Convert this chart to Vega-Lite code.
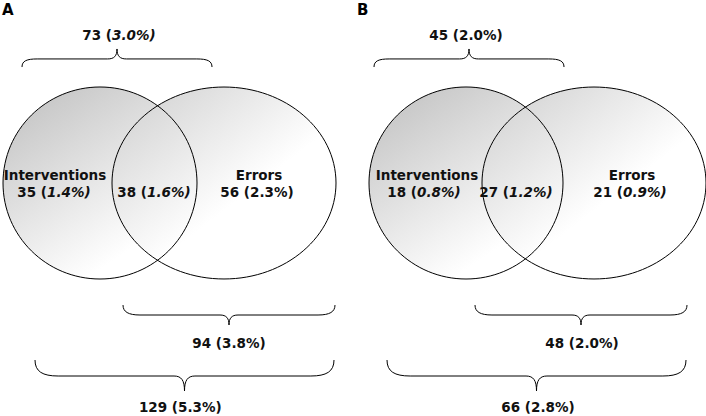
{
  "$schema": "https://vega.github.io/schema/vega-lite/v6.json",
  "width": 706,
  "height": 416,
  "padding": 0,
  "autosize": {"type": "none"},
  "background": "white",
  "config": {"view": {"stroke": null}},
  "datasets": {
    "sets": [
      {"panel": "A", "set": "Interventions", "x": 100, "y": 183},
      {"panel": "A", "set": "Errors", "x": 224, "y": 183},
      {"panel": "B", "set": "Interventions", "x": 466, "y": 183},
      {"panel": "B", "set": "Errors", "x": 594, "y": 183}
    ],
    "braces": [
      {"panel": "A", "brace": "interventions total", "x": 117, "y": 58},
      {"panel": "A", "brace": "errors total", "x": 229, "y": 315},
      {"panel": "A", "brace": "overall", "x": 184.5, "y": 376},
      {"panel": "B", "brace": "interventions total", "x": 469, "y": 58},
      {"panel": "B", "brace": "errors total", "x": 581, "y": 315},
      {"panel": "B", "brace": "overall", "x": 536.5, "y": 376}
    ],
    "names": [
      {"panel": "A", "name": "Interventions", "x": 55, "y": 180},
      {"panel": "A", "name": "Errors", "x": 259, "y": 180},
      {"panel": "B", "name": "Interventions", "x": 427, "y": 180},
      {"panel": "B", "name": "Errors", "x": 632, "y": 180}
    ],
    "counts": [
      {"panel": "A", "region": "interventions total", "x": 112, "y": 40, "lead": "73 (", "tail_italic": "3.0%)", "tail_plain": ""},
      {"panel": "A", "region": "interventions only", "x": 47, "y": 197, "lead": "35 (", "tail_italic": "1.4%)", "tail_plain": ""},
      {"panel": "A", "region": "both", "x": 147, "y": 197, "lead": "38 (", "tail_italic": "1.6%)", "tail_plain": ""},
      {"panel": "A", "region": "errors only", "x": 250, "y": 197, "lead": "56 (", "tail_italic": "", "tail_plain": "2.3%)"},
      {"panel": "A", "region": "errors total", "x": 222, "y": 348, "lead": "94 (", "tail_italic": "", "tail_plain": "3.8%)"},
      {"panel": "A", "region": "overall", "x": 178, "y": 412, "lead": "129 (", "tail_italic": "", "tail_plain": "5.3%)"},
      {"panel": "B", "region": "interventions total", "x": 459, "y": 40, "lead": "45 (", "tail_italic": "", "tail_plain": "2.0%)"},
      {"panel": "B", "region": "interventions only", "x": 417, "y": 197, "lead": "18 (", "tail_italic": "0.8%)", "tail_plain": ""},
      {"panel": "B", "region": "both", "x": 509, "y": 197, "lead": "27 (", "tail_italic": "1.2%)", "tail_plain": ""},
      {"panel": "B", "region": "errors only", "x": 623, "y": 197, "lead": "21 (", "tail_italic": "0.9%)", "tail_plain": ""},
      {"panel": "B", "region": "errors total", "x": 575, "y": 348, "lead": "48 (", "tail_italic": "", "tail_plain": "2.0%)"},
      {"panel": "B", "region": "overall", "x": 531, "y": 412, "lead": "66 (", "tail_italic": "", "tail_plain": "2.8%)"}
    ],
    "panels": [
      {"panel": "A", "x": 2, "y": 15},
      {"panel": "B", "x": 357, "y": 15}
    ]
  },
  "encoding": {
    "x": {"field": "x", "type": "quantitative", "scale": {"domain": [0, 706], "nice": false, "zero": false}, "axis": null},
    "y": {"field": "y", "type": "quantitative", "scale": {"domain": [0, 416], "reverse": true, "nice": false, "zero": false}, "axis": null}
  },
  "layer": [
    {
      "data": {"name": "sets"},
      "transform": [{"filter": "datum.set === 'Interventions'"}],
      "mark": {
        "type": "point",
        "shape": "M 1 0 C 1 0.5466 0.5523 0.9897 0 0.9897 C -0.5523 0.9897 -1 0.5466 -1 0 C -1 -0.5466 -0.5523 -0.9897 0 -0.9897 C 0.5523 -0.9897 1 -0.5466 1 0 Z",
        "size": 37636,
        "filled": true,
        "opacity": 1,
        "fillOpacity": 1,
        "fill": {"gradient": "linear", "x1": 0.15, "y1": 0.1, "x2": 0.65, "y2": 0.85, "stops": [{"offset": 0, "color": "#c8c8c8"}, {"offset": 1, "color": "#ffffff"}]},
        "strokeOpacity": 0
      }
    },
    {
      "data": {"name": "sets"},
      "transform": [{"filter": "datum.set === 'Errors'"}],
      "mark": {
        "type": "point",
        "shape": "M 1 0 C 1 0.4734 0.5523 0.857 0 0.857 C -0.5523 0.857 -1 0.4734 -1 0 C -1 -0.4734 -0.5523 -0.857 0 -0.857 C 0.5523 -0.857 1 -0.4734 1 0 Z",
        "size": 50176,
        "filled": true,
        "opacity": 1,
        "fillOpacity": 1,
        "fill": {"gradient": "linear", "x1": 0.1, "y1": 0.1, "x2": 0.55, "y2": 0.6, "stops": [{"offset": 0, "color": "#d6d6d6"}, {"offset": 1, "color": "#ffffff"}]},
        "strokeOpacity": 0
      }
    },
    {
      "data": {"name": "sets"},
      "transform": [{"filter": "datum.set === 'Interventions'"}],
      "mark": {
        "type": "point",
        "shape": "M 1 0 C 1 0.5466 0.5523 0.9897 0 0.9897 C -0.5523 0.9897 -1 0.5466 -1 0 C -1 -0.5466 -0.5523 -0.9897 0 -0.9897 C 0.5523 -0.9897 1 -0.5466 1 0 Z",
        "size": 37636,
        "filled": false,
        "opacity": 1,
        "stroke": "#000000",
        "strokeWidth": 1
      }
    },
    {
      "data": {"name": "sets"},
      "transform": [{"filter": "datum.set === 'Errors'"}],
      "mark": {
        "type": "point",
        "shape": "M 1 0 C 1 0.4734 0.5523 0.857 0 0.857 C -0.5523 0.857 -1 0.4734 -1 0 C -1 -0.4734 -0.5523 -0.857 0 -0.857 C 0.5523 -0.857 1 -0.4734 1 0 Z",
        "size": 50176,
        "filled": false,
        "opacity": 1,
        "stroke": "#000000",
        "strokeWidth": 1
      }
    },
    {
      "data": {"name": "braces"},
      "transform": [{"filter": "datum.brace === 'interventions total'"}],
      "mark": {
        "type": "point",
        "shape": "M -1 0.095 C -1 0.03 -0.95 0.01 -0.84 0.01 L -0.1 0.01 C -0.03 0.01 0 -0.02 0 -0.095 C 0 -0.02 0.03 0.01 0.1 0.01 L 0.84 0.01 C 0.95 0.01 1 0.03 1 0.095",
        "size": 36100,
        "filled": false,
        "opacity": 1,
        "stroke": "#000000",
        "strokeWidth": 1
      }
    },
    {
      "data": {"name": "braces"},
      "transform": [{"filter": "datum.brace === 'errors total'"}],
      "mark": {
        "type": "point",
        "shape": "M -1 -0.094 C -1 -0.03 -0.95 0 -0.84 0 L -0.085 0 C -0.025 0 0 0.03 0 0.094 C 0 0.03 0.025 0 0.085 0 L 0.84 0 C 0.95 0 1 -0.03 1 -0.094",
        "size": 44944,
        "filled": false,
        "opacity": 1,
        "stroke": "#000000",
        "strokeWidth": 1
      }
    },
    {
      "data": {"name": "braces"},
      "transform": [{"filter": "datum.brace === 'overall'"}],
      "mark": {
        "type": "point",
        "shape": "M -1 -0.107 C -1 -0.03 -0.95 0 -0.845 0 L -0.07 0 C -0.02 0 0 0.03 0 0.1 C 0 0.03 0.02 0 0.07 0 L 0.845 0 C 0.95 0 1 -0.03 1 -0.107",
        "size": 89401,
        "filled": false,
        "opacity": 1,
        "stroke": "#000000",
        "strokeWidth": 1
      }
    },
    {
      "data": {"name": "names"},
      "mark": {"type": "text", "font": "DejaVu Sans", "fontWeight": "bold", "fontSize": 13.5, "align": "center", "baseline": "alphabetic", "fill": "#111111"},
      "encoding": {"text": {"field": "name"}}
    },
    {
      "data": {"name": "counts"},
      "mark": {"type": "text", "font": "DejaVu Sans", "fontWeight": "bold", "fontSize": 13.5, "align": "right", "baseline": "alphabetic", "fill": "#111111"},
      "encoding": {"text": {"field": "lead"}}
    },
    {
      "data": {"name": "counts"},
      "mark": {"type": "text", "font": "DejaVu Sans", "fontWeight": "bold", "fontStyle": "italic", "fontSize": 13.5, "align": "left", "baseline": "alphabetic", "fill": "#111111"},
      "encoding": {"text": {"field": "tail_italic"}}
    },
    {
      "data": {"name": "counts"},
      "mark": {"type": "text", "font": "DejaVu Sans", "fontWeight": "bold", "fontSize": 13.5, "align": "left", "baseline": "alphabetic", "fill": "#111111"},
      "encoding": {"text": {"field": "tail_plain"}}
    },
    {
      "data": {"name": "panels"},
      "mark": {"type": "text", "font": "DejaVu Sans", "fontWeight": "bold", "fontSize": 15, "align": "left", "baseline": "alphabetic", "fill": "#000000"},
      "encoding": {"text": {"field": "panel"}}
    }
  ]
}
